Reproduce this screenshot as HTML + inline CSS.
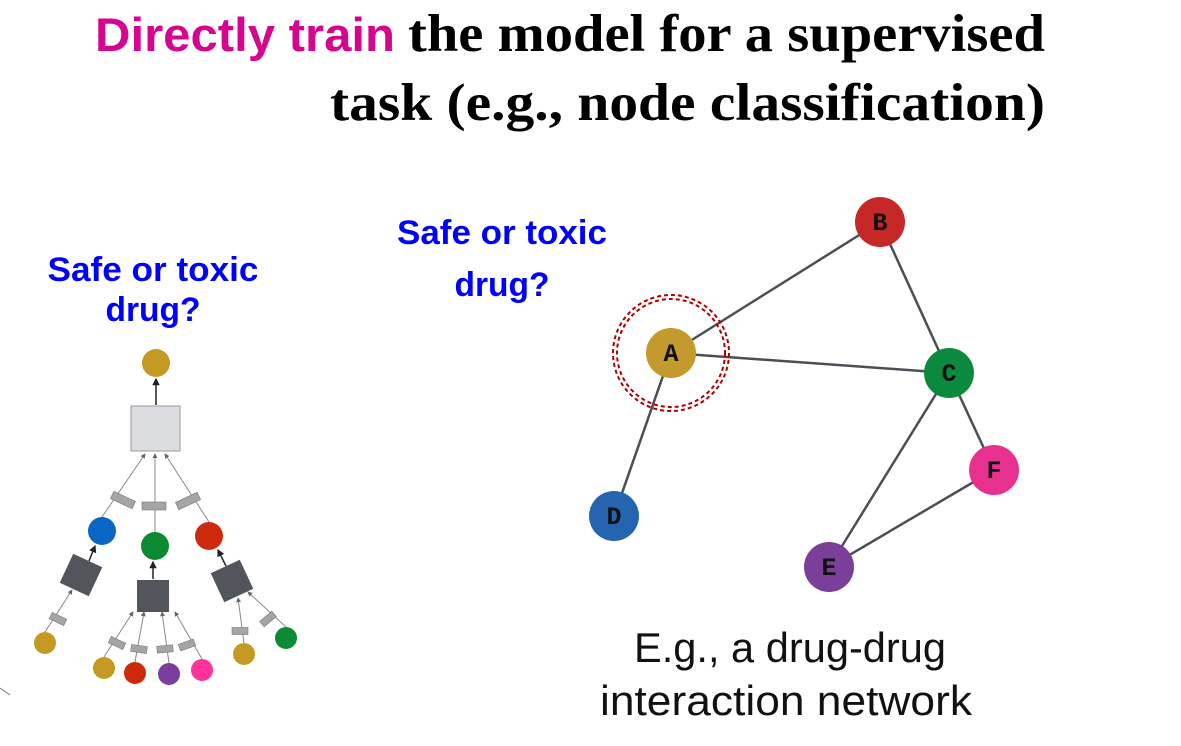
<!DOCTYPE html>
<html><head><meta charset="utf-8"><style>
html,body{margin:0;padding:0;background:#fff;}
svg{display:block;}
</style></head><body>
<svg width="1181" height="746" viewBox="0 0 1181 746" xmlns="http://www.w3.org/2000/svg">
<defs>
<marker id="ar" viewBox="0 0 6 6" refX="5" refY="3" markerWidth="5" markerHeight="5" orient="auto"><path d="M0,0L6,3L0,6z" fill="#666"/></marker>
<marker id="ab" viewBox="0 0 6 6" refX="5" refY="3" markerWidth="5" markerHeight="5" orient="auto"><path d="M0,0L6,3L0,6z" fill="#222"/></marker>
</defs>
<!-- Title -->
<text x="95" y="51" font-family="Liberation Sans, sans-serif" font-weight="bold" font-size="47" fill="#d6058f" textLength="300" lengthAdjust="spacingAndGlyphs">Directly train</text>
<text x="408" y="51" font-family="Liberation Serif, serif" font-weight="bold" font-size="53" fill="#000" textLength="637" lengthAdjust="spacingAndGlyphs">the model for a supervised</text>
<text x="330" y="120" font-family="Liberation Serif, serif" font-weight="bold" font-size="53" fill="#000" textLength="715" lengthAdjust="spacingAndGlyphs">task  (e.g., node classification)</text>
<!-- blue labels -->
<g font-family="Liberation Sans, sans-serif" font-weight="bold" font-size="34" fill="#0000ff" text-anchor="middle">
<text x="153" y="281" textLength="211" lengthAdjust="spacingAndGlyphs">Safe or toxic</text>
<text x="153" y="321" textLength="95" lengthAdjust="spacingAndGlyphs">drug?</text>
<text x="502" y="244" textLength="210" lengthAdjust="spacingAndGlyphs">Safe or toxic</text>
<text x="502" y="296" textLength="95" lengthAdjust="spacingAndGlyphs">drug?</text>
</g>
<!-- bottom text -->
<g font-family="Liberation Sans, sans-serif" font-size="42" fill="#111" text-anchor="middle">
<text x="790" y="662" textLength="312" lengthAdjust="spacingAndGlyphs">E.g., a drug-drug</text>
<text x="786" y="715" textLength="372" lengthAdjust="spacingAndGlyphs">interaction network</text>
</g>
<!-- right graph -->
<g stroke="#4a4f55" stroke-width="2.5">
<line x1="671" y1="353" x2="880" y2="222"/>
<line x1="671" y1="353" x2="949" y2="373"/>
<line x1="671" y1="353" x2="614" y2="516"/>
<line x1="880" y1="222" x2="949" y2="373"/>
<line x1="949" y1="373" x2="994" y2="470"/>
<line x1="949" y1="373" x2="829" y2="567"/>
<line x1="994" y1="470" x2="829" y2="567"/>
</g>
<circle cx="671" cy="353" r="58" fill="none" stroke="#b00000" stroke-width="2" stroke-dasharray="4 3"/>
<circle cx="671" cy="353" r="54" fill="none" stroke="#b00000" stroke-width="2" stroke-dasharray="4 3"/>
<g font-family="Liberation Mono, monospace" font-weight="bold" font-size="25" text-anchor="middle" fill="#111">
<circle cx="880" cy="222" r="25" fill="#c62828"/><text x="880" y="230">B</text>
<circle cx="671" cy="353" r="25" fill="#c49a2c"/><text x="671" y="361">A</text>
<circle cx="949" cy="373" r="25" fill="#0b8a3e"/><text x="949" y="381">C</text>
<circle cx="614" cy="516" r="25" fill="#2564ae"/><text x="614" y="524">D</text>
<circle cx="829" cy="567" r="25" fill="#7a3f98"/><text x="829" y="575">E</text>
<circle cx="994" cy="470" r="25" fill="#e8308e"/><text x="994" y="478">F</text>
</g>
<!-- left tree -->
<g stroke="#888" stroke-width="1" fill="none" marker-end="url(#ar)">
<line x1="102" y1="517" x2="145" y2="454"/>
<line x1="155" y1="532" x2="155" y2="454"/>
<line x1="209" y1="522" x2="165" y2="454"/>
<line x1="45" y1="632" x2="72" y2="590"/>
<line x1="104" y1="657" x2="133" y2="612"/>
<line x1="135" y1="662" x2="144" y2="612"/>
<line x1="169" y1="663" x2="162" y2="612"/>
<line x1="202" y1="659" x2="175" y2="612"/>
<line x1="244" y1="643" x2="238" y2="598"/>
<line x1="286" y1="627" x2="248" y2="592"/>
</g>
<g stroke="#222" stroke-width="1.5" marker-end="url(#ab)">
<line x1="156" y1="405" x2="156" y2="379"/>
<line x1="89" y1="561" x2="95" y2="546"/>
<line x1="153" y1="579" x2="153" y2="562"/>
<line x1="226" y1="566" x2="218" y2="550"/>
</g>
<rect x="131" y="406" width="49" height="45" fill="#dcdde0" stroke="#999" stroke-width="1"/>
<g fill="#52565c">
<rect x="-16" y="-16" width="32" height="32" transform="translate(81,575) rotate(25)"/>
<rect x="-16" y="-16" width="32" height="32" transform="translate(153,596)"/>
<rect x="-16" y="-16" width="32" height="32" transform="translate(232,581) rotate(-25)"/>
</g>
<g fill="#a3a5a7" stroke="#777" stroke-width="0.6">
<rect x="-12" y="-4" width="24" height="8" transform="translate(123,500) rotate(25)"/>
<rect x="-12" y="-4" width="24" height="8" transform="translate(154,506)"/>
<rect x="-12" y="-4" width="24" height="8" transform="translate(188,501) rotate(-25)"/>
<rect x="-8" y="-3.5" width="16" height="7" transform="translate(58,619) rotate(25)"/>
<rect x="-8" y="-3.5" width="16" height="7" transform="translate(117,643) rotate(25)"/>
<rect x="-8" y="-3.5" width="16" height="7" transform="translate(139,649) rotate(8)"/>
<rect x="-8" y="-3.5" width="16" height="7" transform="translate(165,649) rotate(-5)"/>
<rect x="-8" y="-3.5" width="16" height="7" transform="translate(187,645) rotate(-20)"/>
<rect x="-8" y="-3.5" width="16" height="7" transform="translate(240,631)"/>
<rect x="-8" y="-3.5" width="16" height="7" transform="translate(268,619) rotate(-40)"/>
</g>
<circle cx="156" cy="363" r="14" fill="#c49a22"/>
<circle cx="102" cy="531" r="14" fill="#0866c4"/>
<circle cx="155" cy="546" r="14" fill="#0b8a32"/>
<circle cx="209" cy="536" r="14" fill="#cc2a0a"/>
<circle cx="45" cy="643" r="11" fill="#c49a22"/>
<circle cx="104" cy="668" r="11" fill="#c49a22"/>
<circle cx="135" cy="673" r="11" fill="#cc2a0a"/>
<circle cx="169" cy="674" r="11" fill="#7a3f9e"/>
<circle cx="202" cy="670" r="11" fill="#ff3399"/>
<circle cx="244" cy="654" r="11" fill="#c49a22"/>
<circle cx="286" cy="638" r="11" fill="#0b8a32"/>
<line x1="0" y1="688" x2="10" y2="695" stroke="#777" stroke-width="1"/>
</svg>
</body></html>
